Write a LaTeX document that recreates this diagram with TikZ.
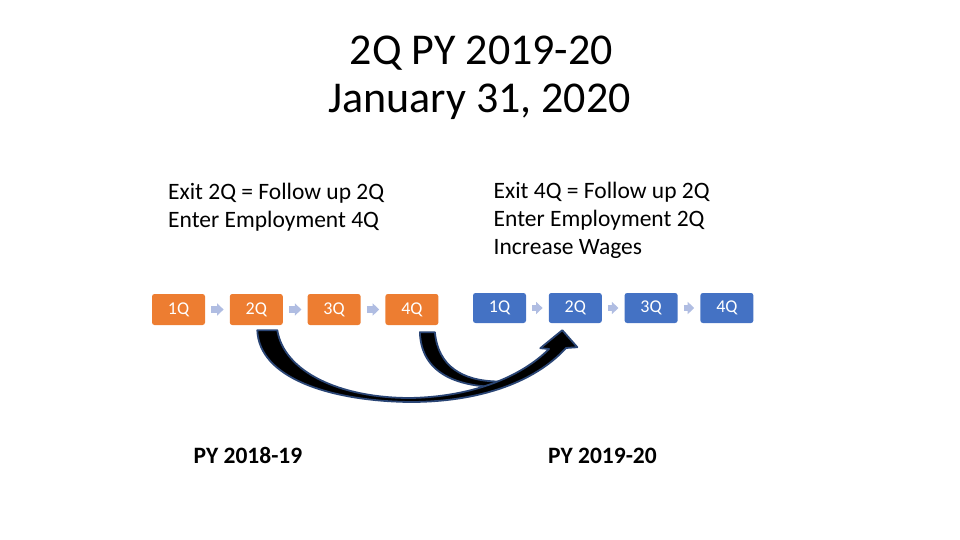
\documentclass[tikz,border=0pt]{standalone}
\usepackage{fontspec}
\setmainfont{Carlito}
\usetikzlibrary{arrows.meta,calc}
\definecolor{qorange}{HTML}{ED7D31}
\definecolor{qblue}{HTML}{4472C4}
\definecolor{qarrow}{HTML}{B0BDE2}
\definecolor{qnavy}{HTML}{2A4575}
\newcommand{\lx}{178.5}
\newcommand{\rx}{499.5}
\newcommand{\lp}{77.8}
\newcommand{\rp}{75.8}
\tikzset{
  qbox/.style={rounded corners=2.5pt, minimum width=53pt, minimum height=30pt, inner sep=0pt, text=white, font=\fontsize{18}{20}\selectfont},
  smallarr/.style={draw=qarrow, line width=6.5pt, -{Triangle[width=12pt,length=6.5pt]}, shorten <=6pt, shorten >=6pt},
  bigarr/.style={fill=black, draw=qnavy, line width=1.8pt, line join=round},
  titletxt/.style={anchor=base, inner sep=0pt, font=\fontsize{44}{48}\selectfont},
  bodytxt/.style={anchor=base west, inner sep=0pt, font=\fontsize{23.5}{28}\selectfont},
  pytxt/.style={anchor=base, inner sep=0pt, font=\fontsize{23.5}{26}\selectfont\bfseries}
}

\begin{document}
\begin{tikzpicture}[x=1pt,y=-1pt]
    \useasboundingbox (0,0) rectangle (960,540);
    \node[titletxt] (title1) at (481.5,65) {2Q PY 2019-20};
    \node[titletxt] (title2) at (479.5,113) {January 31, 2020};
    \foreach \t [count=\k] in {Exit 2Q = Follow up 2Q, Enter Employment 4Q}
        \node[bodytxt] (lt\k) at (168,{171+28*\k}) {\t};
    \foreach \t [count=\k] in {Exit 4Q = Follow up 2Q, Enter Employment 2Q, Increase Wages}
        \node[bodytxt] (rt\k) at (493.5,{170.5+28*\k}) {\t};
    \foreach \i in {1,...,4} {
        \node[qbox, fill=qorange, minimum height=31pt] (l\i) at ({\lx+(\i-1)*\lp},309.5) {\i Q};
        \node[qbox, fill=qblue] (r\i) at ({\rx+(\i-1)*\rp},308) {\i Q};
    }
    \foreach \i/\j in {1/2,2/3,3/4} {
        \draw[smallarr] (l\i) -- (l\j);
        \draw[smallarr] (r\i) -- (r\j);
    }
    \coordinate (tip) at ($(r2.south)+(-13,7)$);
    \draw[bigarr] ($(l4.south)+(8,7)$) .. controls (421,372) and (455,387) .. (500,387)
        -- (510,384) -- (498,381.5) .. controls (462,381) and (438,366) .. ($(l4.south)+(23,7)$) -- cycle;
    \draw[bigarr] ($(l2.south)+(1,5)$) .. controls (259,378) and (330,401) .. (410,402)
        .. controls (480,402) and (535,382) .. (566,348) -- ($(tip)+(15,17)$) -- (tip)
        -- ($(tip)+(-22,18)$) -- (549,349) .. controls (520,378) and (470,397) .. (410,398)
        .. controls (340,398) and (284,372) .. ($(l2.south)+(21,5)$) -- cycle;
    \node[pytxt] (py1) at (248,463) {PY 2018-19};
    \node[pytxt] (py2) at (602.5,463) {PY 2019-20};
\end{tikzpicture}
\end{document}
